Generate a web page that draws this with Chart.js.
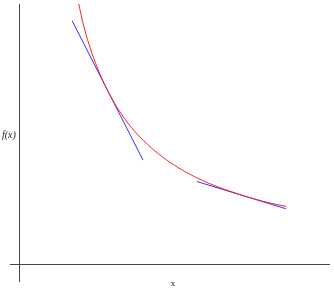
<!DOCTYPE html>
<html>
<head>
<meta charset="utf-8">
<script src="https://cdn.jsdelivr.net/npm/chart.js@4"></script>
<style>
    body { margin: 0; background: #fff; }
    #grafico { display: block; }
</style>
</head>
<body>
<canvas id="grafico" width="334" height="291"></canvas>
<script>
// curva f(x)
const curvaX = [1.90, 2.10, 2.30, 2.50, 2.75, 3.00, 3.30, 3.60, 4.00, 4.50, 5.00, 5.50, 6.00, 6.50, 7.00, 7.50, 8.00, 8.58];
const curvaY = [8.75, 7.86, 7.17, 6.60, 6.00, 5.50, 5.00, 4.58, 4.13, 3.67, 3.30, 3.00, 2.75, 2.54, 2.36, 2.20, 2.06, 1.93];

// tangentes (extremos)
const tangente1X = [1.70, 3.98];
const tangente1Y = [8.14, 3.48];
const tangente2X = [5.72, 8.58];
const tangente2Y = [2.76, 1.85];

const etiquetaX = 'x';
const etiquetaY = 'f(x)';

function puntos(xs, ys) {
    return xs.map(function (x, i) {
        return { x: x, y: ys[i] };
    });
}

function soloCero(scale) {
    scale.ticks = [{ value: 0 }];
}

const etiquetas = {
    id: 'etiquetas',
    afterDraw: function (chart) {
        const ctx = chart.ctx;
        const area = chart.chartArea;
        ctx.save();
        ctx.fillStyle = '#222';
        ctx.textBaseline = 'middle';
        ctx.font = 'italic 10px "Liberation Serif"';
        ctx.textAlign = 'left';
        ctx.fillText(etiquetaY, 2, 135);
        ctx.font = '9px "Liberation Serif"';
        ctx.textAlign = 'center';
        ctx.fillText(etiquetaX, 173, 284);
        ctx.restore();
    }
};

const ejeGrid = {
    color: function (c) { return c.tick && c.tick.value === 0 ? '#444' : 'rgba(0,0,0,0)'; },
    lineWidth: 1,
    drawTicks: false
};

new Chart(document.getElementById('grafico'), {
    type: 'line',
    data: {
        datasets: [{
            data: puntos(curvaX, curvaY),
            borderColor: '#ff2020',
            borderWidth: 1,
            pointRadius: 0,
            tension: 0.4,
            fill: false
        }, {
            data: puntos(tangente1X, tangente1Y),
            borderColor: '#3030ff',
            borderWidth: 1,
            pointRadius: 0,
            fill: false
        }, {
            data: puntos(tangente2X, tangente2Y),
            borderColor: '#3030ff',
            borderWidth: 1,
            pointRadius: 0,
            fill: false
        }]
    },
    options: {
        responsive: false,
        animation: false,
        layout: {
            padding: { left: 10, right: 4, top: 4, bottom: 9 }
        },
        plugins: {
            legend: { display: false },
            tooltip: { enabled: false }
        },
        scales: {
            x: {
                type: 'linear',
                min: -0.3,
                max: 10,
                afterBuildTicks: soloCero,
                ticks: { display: false },
                border: { display: false },
                grid: ejeGrid
            },
            y: {
                type: 'linear',
                min: -0.6,
                max: 8.7,
                afterBuildTicks: soloCero,
                ticks: { display: false },
                border: { display: false },
                grid: ejeGrid
            }
        }
    },
    plugins: [etiquetas]
});
</script>
</body>
</html>
